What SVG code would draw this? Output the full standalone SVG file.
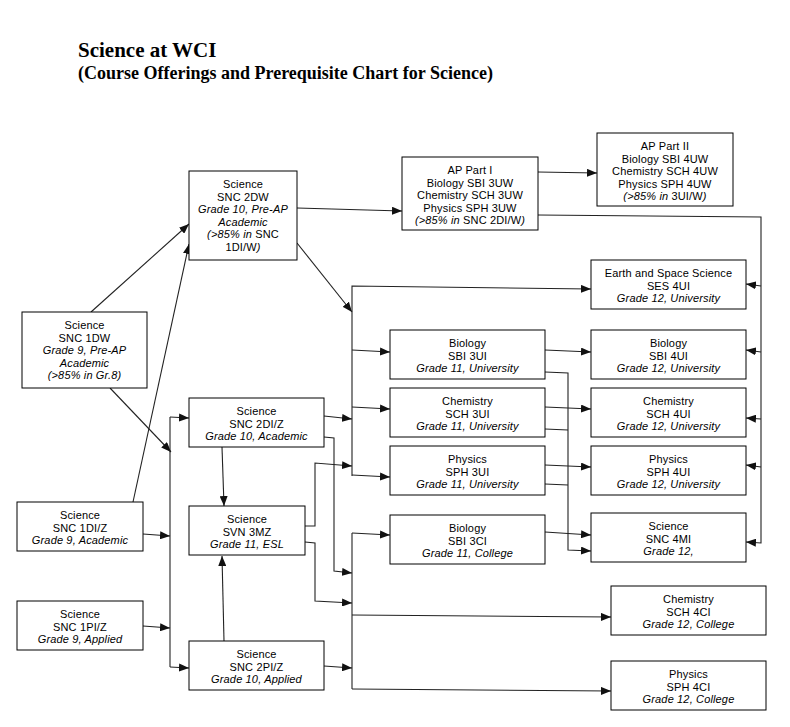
<svg xmlns="http://www.w3.org/2000/svg" width="790" height="727" viewBox="0 0 790 727">
<defs>
<marker id="ah" viewBox="0 0 10 8" refX="10" refY="4" markerWidth="10" markerHeight="8" markerUnits="userSpaceOnUse" orient="auto">
<path d="M0,0 L10,4 L0,8 Z" fill="#111"/>
</marker>
<style>
.t{font-family:"Liberation Serif","Times New Roman",serif;font-weight:bold;fill:#000}
.box{fill:#fff;stroke:#000;stroke-width:1}
.n text{font-family:"Liberation Sans",Arial,sans-serif;font-size:11px;letter-spacing:0.15px;fill:#000;text-anchor:middle}
.i{font-style:italic}
.c path{fill:none;stroke:#222;stroke-width:1.1}
.a{marker-end:url(#ah)}
</style>
</defs>
<rect width="790" height="727" fill="#fff"/>
<text class="t" x="78" y="57" font-size="21">Science at WCI</text>
<text class="t" x="78" y="79" font-size="18">(Course Offerings and Prerequisite Chart for Science)</text>

<g class="c" id="connectors">
<path class="a" d="M91,312 L189,224"/>
<path class="a" d="M133,502 L189,244"/>
<path class="a" d="M110,388 L171,452"/>
<path d="M170,417 L170,667"/>
<path class="a" d="M170,417 L189,418"/>
<path class="a" d="M170,667 L189,668"/>
<path class="a" d="M143,534 L170,536"/>
<path class="a" d="M143,626 L170,628"/>
<path class="a" d="M222,447 L224,506"/>
<path class="a" d="M224,641 L222,556"/>
<path class="a" d="M297,208 L402,211"/>
<path class="a" d="M297,243 L352,312"/>
<path class="a" d="M352,476 L352,286 L591,289"/>
<path class="a" d="M352,350 L390,352"/>
<path class="a" d="M352,407 L390,409"/>
<path class="a" d="M352,475 L390,477"/>
<path class="a" d="M324,416 L352,419"/>
<path class="a" d="M305,526 L315,526 L315,463 L352,466"/>
<path d="M352,533 L352,689"/>
<path class="a" d="M352,533 L390,535"/>
<path class="a" d="M352,615 L611,617"/>
<path class="a" d="M352,689 L611,691"/>
<path class="a" d="M324,437 L334,438 L334,571 L352,573"/>
<path class="a" d="M305,542 L315,543 L315,601 L352,603"/>
<path class="a" d="M324,666 L352,668"/>
<path class="a" d="M545,350 L591,352"/>
<path class="a" d="M545,407 L591,409"/>
<path class="a" d="M545,465 L591,467"/>
<path class="a" d="M545,532 L591,535"/>
<path class="a" d="M545,372 L568,373 L568,550 L591,551"/>
<path d="M545,429 L568,430"/>
<path d="M545,484 L568,485"/>
<path class="a" d="M538,172 L597,173"/>
<path class="a" d="M538,215 L761,217 L761,543 L746,542"/>
<path class="a" d="M761,286 L746,284"/>
<path class="a" d="M761,352 L746,350"/>
<path class="a" d="M761,419 L746,418"/>
<path class="a" d="M761,467 L746,465"/>
</g>

<g class="n" id="snc1dw">
<rect class="box" x="22" y="312" width="125" height="76"/>
<text x="84.5" y="329">Science</text>
<text x="84.5" y="341.5">SNC 1DW</text>
<text x="84.5" y="354" class="i">Grade 9, Pre-AP</text>
<text x="84.5" y="366.5" class="i">Academic</text>
<text x="84.5" y="379" class="i">(&gt;85% in Gr.8)</text>
</g>
<g class="n" id="snc1diz">
<rect class="box" x="17" y="502" width="126" height="49"/>
<text x="80" y="519">Science</text>
<text x="80" y="531.5">SNC 1DI/Z</text>
<text x="80" y="544" class="i">Grade 9, Academic</text>
</g>
<g class="n" id="snc1piz">
<rect class="box" x="17" y="601" width="126" height="49"/>
<text x="80" y="618">Science</text>
<text x="80" y="630.5">SNC 1PI/Z</text>
<text x="80" y="643" class="i">Grade 9, Applied</text>
</g>
<g class="n" id="snc2dw">
<rect class="box" x="189" y="171" width="108" height="89"/>
<text x="243" y="188">Science</text>
<text x="243" y="200.5">SNC 2DW</text>
<text x="243" y="213" class="i">Grade 10, Pre-AP</text>
<text x="243" y="225.5" class="i">Academic</text>
<text x="243" y="238"><tspan class="i">(&gt;85% in</tspan> SNC</text>
<text x="243" y="250.5">1DI/W<tspan class="i">)</tspan></text>
</g>
<g class="n" id="snc2diz">
<rect class="box" x="189" y="398" width="135" height="49"/>
<text x="256.5" y="415">Science</text>
<text x="256.5" y="427.5">SNC 2DI/Z</text>
<text x="256.5" y="440" class="i">Grade 10, Academic</text>
</g>
<g class="n" id="svn3mz">
<rect class="box" x="189" y="506" width="116" height="49"/>
<text x="247" y="523">Science</text>
<text x="247" y="535.5">SVN 3MZ</text>
<text x="247" y="548" class="i">Grade 11, ESL</text>
</g>
<g class="n" id="snc2piz">
<rect class="box" x="189" y="641" width="135" height="49"/>
<text x="256.5" y="658">Science</text>
<text x="256.5" y="670.5">SNC 2PI/Z</text>
<text x="256.5" y="683" class="i">Grade 10, Applied</text>
</g>
<g class="n" id="ap1">
<rect class="box" x="402" y="157" width="136" height="73"/>
<text x="470" y="174">AP Part I</text>
<text x="470" y="186.5">Biology SBI 3UW</text>
<text x="470" y="199">Chemistry SCH 3UW</text>
<text x="470" y="211.5">Physics SPH 3UW</text>
<text x="470" y="224"><tspan class="i">(&gt;85% in</tspan> SNC 2DI/W<tspan class="i">)</tspan></text>
</g>
<g class="n" id="ap2">
<rect class="box" x="597" y="133" width="136" height="73"/>
<text x="665" y="150">AP Part II</text>
<text x="665" y="162.5">Biology SBI 4UW</text>
<text x="665" y="175">Chemistry SCH 4UW</text>
<text x="665" y="187.5">Physics SPH 4UW</text>
<text x="665" y="200"><tspan class="i">(&gt;85% in</tspan> 3UI/W<tspan class="i">)</tspan></text>
</g>
<g class="n" id="ses4ui">
<rect class="box" x="591" y="260" width="155" height="49"/>
<text x="668.5" y="277">Earth and Space Science</text>
<text x="668.5" y="289.5">SES 4UI</text>
<text x="668.5" y="302" class="i">Grade 12, University</text>
</g>
<g class="n" id="sbi3ui">
<rect class="box" x="390" y="330" width="155" height="49"/>
<text x="467.5" y="347">Biology</text>
<text x="467.5" y="359.5">SBI 3UI</text>
<text x="467.5" y="372" class="i">Grade 11, University</text>
</g>
<g class="n" id="sbi4ui">
<rect class="box" x="591" y="330" width="155" height="49"/>
<text x="668.5" y="347">Biology</text>
<text x="668.5" y="359.5">SBI 4UI</text>
<text x="668.5" y="372" class="i">Grade 12, University</text>
</g>
<g class="n" id="sch3ui">
<rect class="box" x="390" y="388" width="155" height="49"/>
<text x="467.5" y="405">Chemistry</text>
<text x="467.5" y="417.5">SCH 3UI</text>
<text x="467.5" y="430" class="i">Grade 11, University</text>
</g>
<g class="n" id="sch4ui">
<rect class="box" x="591" y="388" width="155" height="49"/>
<text x="668.5" y="405">Chemistry</text>
<text x="668.5" y="417.5">SCH 4UI</text>
<text x="668.5" y="430" class="i">Grade 12, University</text>
</g>
<g class="n" id="sph3ui">
<rect class="box" x="390" y="446" width="155" height="49"/>
<text x="467.5" y="463">Physics</text>
<text x="467.5" y="475.5">SPH 3UI</text>
<text x="467.5" y="488" class="i">Grade 11, University</text>
</g>
<g class="n" id="sph4ui">
<rect class="box" x="591" y="446" width="155" height="49"/>
<text x="668.5" y="463">Physics</text>
<text x="668.5" y="475.5">SPH 4UI</text>
<text x="668.5" y="488" class="i">Grade 12, University</text>
</g>
<g class="n" id="sbi3ci">
<rect class="box" x="390" y="515" width="155" height="49"/>
<text x="467.5" y="532">Biology</text>
<text x="467.5" y="544.5">SBI 3CI</text>
<text x="467.5" y="557" class="i">Grade 11, College</text>
</g>
<g class="n" id="snc4mi">
<rect class="box" x="591" y="513" width="155" height="49"/>
<text x="668.5" y="530">Science</text>
<text x="668.5" y="542.5">SNC 4MI</text>
<text x="668.5" y="555" class="i">Grade 12,</text>
</g>
<g class="n" id="sch4ci">
<rect class="box" x="611" y="586" width="155" height="49"/>
<text x="688.5" y="603">Chemistry</text>
<text x="688.5" y="615.5">SCH 4CI</text>
<text x="688.5" y="628" class="i">Grade 12, College</text>
</g>
<g class="n" id="sph4ci">
<rect class="box" x="611" y="661" width="155" height="49"/>
<text x="688.5" y="678">Physics</text>
<text x="688.5" y="690.5">SPH 4CI</text>
<text x="688.5" y="703" class="i">Grade 12, College</text>
</g>
</svg>
